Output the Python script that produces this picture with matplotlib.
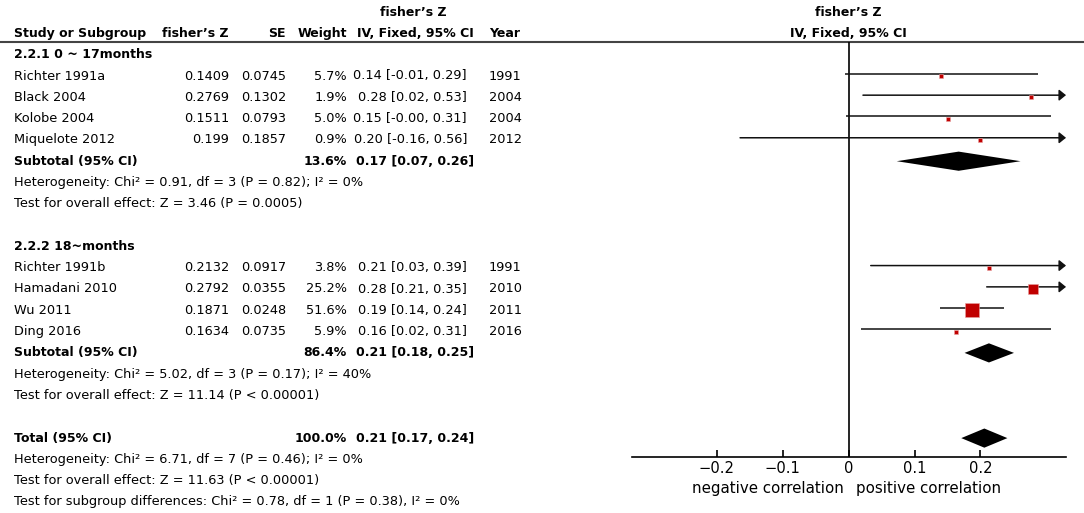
import matplotlib
matplotlib.use("Agg")
import matplotlib.pyplot as plt
import numpy as np

plt.rcParams['font.family'] = ['DejaVu Sans']

# ---------------- data ----------------
studies = ["Richter 1991a", "Black 2004", "Kolobe 2004", "Miquelote 2012",
           "Richter 1991b", "Hamadani 2010", "Wu 2011", "Ding 2016"]
fz = [0.1409, 0.2769, 0.1511, 0.199, 0.2132, 0.2792, 0.1871, 0.1634]
se = [0.0745, 0.1302, 0.0793, 0.1857, 0.0917, 0.0355, 0.0248, 0.0735]
weight = [5.7, 1.9, 5.0, 0.9, 3.8, 25.2, 51.6, 5.9]
ci_lo = [-0.0051, 0.0217, -0.0043, -0.1649, 0.0335, 0.2096, 0.1385, 0.0193]
ci_hi = [0.2869, 0.5321, 0.3065, 0.5630, 0.3929, 0.3488, 0.2357, 0.3075]
years = [1991, 2004, 2004, 2012, 1991, 2010, 2011, 2016]
study_rows = [1, 2, 3, 4, 10, 11, 12, 13]

groups = ["2.2.1 0 ~ 17months", "2.2.2 18~months"]
group_rows = [0, 9]

pooled_labels = ["Subtotal (95% CI)", "Subtotal (95% CI)", "Total (95% CI)"]
pooled_weight = [13.6, 86.4, 100.0]
pooled_est = [0.167, 0.213, 0.206]
pooled_lo = [0.073, 0.176, 0.171]
pooled_hi = [0.261, 0.251, 0.241]
pooled_text = ["0.17 [0.07, 0.26]", "0.21 [0.18, 0.25]", "0.21 [0.17, 0.24]"]
pooled_rows = [5, 14, 18]

notes = ["Heterogeneity: Chi² = 0.91, df = 3 (P = 0.82); I² = 0%",
         "Test for overall effect: Z = 3.46 (P = 0.0005)",
         "Heterogeneity: Chi² = 5.02, df = 3 (P = 0.17); I² = 40%",
         "Test for overall effect: Z = 11.14 (P < 0.00001)",
         "Heterogeneity: Chi² = 6.71, df = 7 (P = 0.46); I² = 0%",
         "Test for overall effect: Z = 11.63 (P < 0.00001)",
         "Test for subgroup differences: Chi² = 0.78, df = 1 (P = 0.38), I² = 0%"]
note_rows = [6, 7, 15, 16, 19, 20, 21]

xticks = [-0.2, -0.1, 0, 0.1, 0.2]
xticklabels = ["\u22120.2", "\u22120.1", "0", "0.1", "0.2"]
xlim = (-0.329, 0.33)

# ---------------- layout ----------------
W, H = 1084, 513
R0, DR = 54.7, 21.3          # pixel y of row 0, row spacing


def row(p):
    return (p - R0) / DR


fig = plt.figure(figsize=(W / 100, H / 100), dpi=100)

# text layer (x in pixels, y in rows)
axt = fig.add_axes([0, 0, 1, 1])
axt.set_xlim(0, W)
axt.set_ylim(row(H), row(0))
axt.axis("off")

# forest plot axes
px_l, px_r, py_t, py_b = 632, 1066, 42, 457
ax = fig.add_axes([px_l / W, (H - py_b) / H, (px_r - px_l) / W, (py_b - py_t) / H])
ax.set_xlim(*xlim)
ax.set_ylim(row(py_b), row(py_t))
ax.patch.set_alpha(0)
for s in ["top", "left", "right"]:
    ax.spines[s].set_visible(False)
ax.spines["bottom"].set_linewidth(1.2)
ax.set_yticks([])
ax.set_xticks(xticks)
ax.set_xticklabels(xticklabels)
ax.tick_params(axis="x", direction="in", length=5, width=1.2, labelsize=10.6, pad=3)
ax.axvline(0, color="black", lw=1.2)

FS = 9.3
FSB = 9.0

# header line
axt.axhline(row(42), color="#444444", lw=1.5, xmin=0, xmax=1)

# headers
hdr = dict(fontsize=FSB, fontweight="bold", va="center")
axt.text(413, -2, "fisher\u2019s Z", ha="center", **hdr)
axt.text(14, -1, "Study or Subgroup", ha="left", **hdr)
axt.text(229, -1, "fisher\u2019s Z", ha="right", **hdr)
axt.text(286, -1, "SE", ha="right", **hdr)
axt.text(347, -1, "Weight", ha="right", **hdr)
axt.text(415, -1, "IV, Fixed, 95% CI", ha="center", **hdr)
axt.text(489, -1, "Year", ha="left", **hdr)
axt.text(848, -2, "fisher\u2019s Z", ha="center", **hdr)
axt.text(848, -1, "IV, Fixed, 95% CI", ha="center", **hdr)

for g, r in zip(groups, group_rows):
    axt.text(14, r, g, ha="left", **hdr)

reg = dict(fontsize=FS, va="center")
for i, r in enumerate(study_rows):
    axt.text(14, r, studies[i], ha="left", **reg)
    axt.text(229, r, f"{fz[i]:g}", ha="right", **reg)
    axt.text(286, r, f"{se[i]:.4f}", ha="right", **reg)
    axt.text(347, r, f"{weight[i]:.1f}%", ha="right", **reg)
    axt.text(467, r, f"{fz[i]:.2f} [{ci_lo[i]:.2f}, {ci_hi[i]:.2f}]", ha="right", **reg)
    axt.text(489, r, f"{years[i]}", ha="left", **reg)

for i, r in enumerate(pooled_rows):
    axt.text(14, r, pooled_labels[i], ha="left", **hdr)
    axt.text(347, r, f"{pooled_weight[i]:.1f}%", ha="right", **hdr)
    axt.text(474, r, pooled_text[i], ha="right", **hdr)

for t, r in zip(notes, note_rows):
    axt.text(14, r, t, ha="left", **reg)

axt.text(844, row(488), "negative correlation", ha="right", fontsize=10.8, va="center")
axt.text(856, row(488), "positive correlation", ha="left", fontsize=10.8, va="center")

# ---------------- forest marks ----------------
red = "#C00000"
for i, r in enumerate(study_rows):
    y = r - 0.1
    lo = max(ci_lo[i], xlim[0])
    if ci_hi[i] > xlim[1]:
        ax.annotate("", xy=(xlim[1], y), xytext=(lo, y),
                    arrowprops=dict(arrowstyle="-|>,head_length=0.27,head_width=0.22",
                                    color="#111111", lw=1.1,
                                    mutation_scale=15, shrinkA=0, shrinkB=0),
                    annotation_clip=False)
    else:
        ax.plot([lo, ci_hi[i]], [y, y], color="#111111", lw=1.1, solid_capstyle="butt")
    side_px = max(3.2, 1.85 * np.sqrt(weight[i]))
    ax.plot(fz[i], r, marker="s", markersize=side_px * 0.72, color=red,
            markeredgecolor="#e8a0a0", markeredgewidth=0.4, zorder=5)

for i, r in enumerate(pooled_rows):
    h = 0.45
    ax.fill([pooled_lo[i], pooled_est[i], pooled_hi[i], pooled_est[i]],
            [r, r - h, r, r + h], color="black", lw=0, zorder=4)

fig.savefig("out.png", dpi=100)
